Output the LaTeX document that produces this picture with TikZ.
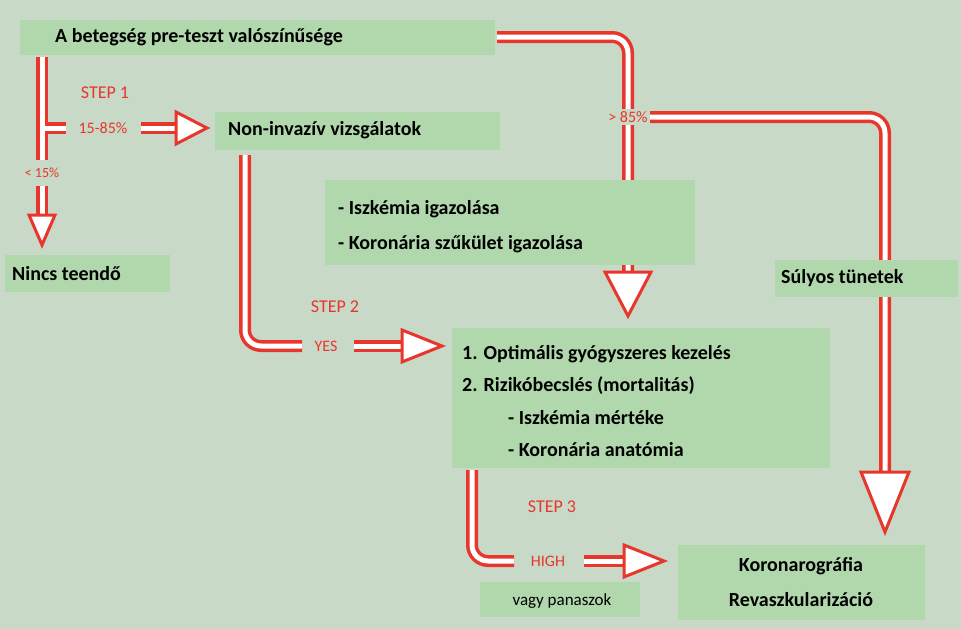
\documentclass[tikz,border=0pt]{standalone}
\usepackage{fontspec}
\setmainfont{Carlito}
\usetikzlibrary{positioning}
\definecolor{bgcol}{HTML}{C8D9C8}
\definecolor{boxcol}{HTML}{B1D8AC}
\definecolor{pipered}{HTML}{E8362C}
\tikzset{
box/.style={fill=boxcol, inner sep=0pt},
txt/.style={font=\bfseries\fontsize{20}{24}\selectfont, anchor=west, inner sep=0pt},
lab/.style={text=pipered, font=\fontsize{16}{19}\selectfont, inner sep=0pt},
pipeout/.style={draw=pipered, line width=12pt, rounded corners=16pt},
pipein/.style={draw=white, line width=5pt, rounded corners=16pt},
head/.style={draw=pipered, fill=white, line width=3pt, line join=miter},
}
% hollow arrow heads: tip, length, half width
\newcommand\headright[3]{\draw[head] (#1) -- ++(-#2,#3) -- ++(0,-2*#3) -- cycle;}
\newcommand\headdown[3]{\draw[head] (#1) -- ++(-#3,-#2) -- ++(2*#3,0) -- cycle;}
\begin{document}
\begin{tikzpicture}[x=1pt,y=-1pt]
\useasboundingbox[fill=bgcol] (0,0) rectangle (961,629);

%Named points of the connectors
\coordinate (a0) at (42,57);   \coordinate (a1) at (42,160);
\coordinate (a2) at (42,186);  \coordinate (a3) at (42,220);
\coordinate (alt) at (42,245);
\coordinate (b0) at (42,128);  \coordinate (b1) at (66,128);
\coordinate (b2) at (141,128); \coordinate (b3) at (178,128);
\coordinate (bt) at (207,128);
\coordinate (c0) at (497,37);  \coordinate (c1) at (628,37);
\coordinate (c2) at (628,275); \coordinate (ct) at (628,316);
\coordinate (d0) at (628,117); \coordinate (d1) at (885,117);
\coordinate (d2) at (885,475); \coordinate (dt) at (885,532);
\coordinate (e0) at (245,155); \coordinate (e1) at (245,346);
\coordinate (e2) at (302,346); \coordinate (e3) at (354,346);
\coordinate (e4) at (405,346); \coordinate (et) at (442,346);
\coordinate (f0) at (472,470); \coordinate (f1) at (472,561);
\coordinate (f2) at (514,561); \coordinate (f3) at (584,561);
\coordinate (f4) at (628,561); \coordinate (ft) at (664,561);

%Pipes, outer red first, white core on top
\draw[pipeout] (a0) -- (a1);
\draw[pipeout] (a2) -- (a3);
\draw[pipeout] (b0) -- (b1);
\draw[pipeout] (b2) -- (b3);
\draw[pipeout] (c0) -- (c1) -- (c2);
\draw[pipeout] (d0) -- (d1) -- (d2);
\draw[pipeout] (e0) -- (e1) -- (e2);
\draw[pipeout] (e3) -- (e4);
\draw[pipeout] (f0) -- (f1) -- (f2);
\draw[pipeout] (f3) -- (f4);
\draw[pipein] (a0) -- (a1);
\draw[pipein] (a2) -- (a3);
\draw[pipein] (b0) -- (b1);
\draw[pipein] (b2) -- (b3);
\draw[pipein] (c0) -- (c1) -- (c2);
\draw[pipein] (d0) -- (d1) -- (d2);
\draw[pipein] (e0) -- (e1) -- (e2);
\draw[pipein] (e3) -- (e4);
\draw[pipein] (f0) -- (f1) -- (f2);
\draw[pipein] (f3) -- (f4);

%Heads
\headdown{alt}{30}{13}
\headright{bt}{31}{16}
\headdown{ct}{44}{23}
\headdown{dt}{60}{24}
\headright{et}{40}{16}
\headright{ft}{40}{16}

%Boxes
\fill[box] (20,20) rectangle (495,55);
\node[txt] (pre) at (55,37) {A betegség pre-teszt valószínűsége};
\fill[box] (215,112) rectangle (500,150);
\node[txt] (noninv) at (228,130) {Non-invazív vizsgálatok};
\fill[box] (325,180) rectangle (695,265);
\node[txt] (isk) at (338,209) {- Iszkémia igazolása};
\node[txt] (kor) at (338,244) {- Koronária szűkület igazolása};
\fill[box] (5,255) rectangle (170,292);
\node[txt] (nincs) at (12,274) {Nincs teendő};
\fill[box] (775,260) rectangle (958,297);
\node[txt] (sulyos) at (781,278) {Súlyos tünetek};
\fill[box] (452,328) rectangle (830,468);
\node[txt] (opt) at (462,354) {1. Optimális gyógyszeres kezelés};
\node[txt] (rizk) at (462,386) {2. Rizikóbecslés (mortalitás)};
\node[txt] (iszm) at (508,418) {- Iszkémia mértéke};
\node[txt] (anat) at (508,450) {- Koronária anatómia};
\fill[box] (678,545) rectangle (925,620);
\node[txt, anchor=center] (korog) at (801,566) {Koronarográfia};
\node[txt, anchor=center] (revas) at (801,600) {Revaszkularizáció};
\fill[box] (480,582) rectangle (640,617);
\node[font=\fontsize{17}{20}\selectfont, inner sep=0pt] (vagy) at (562,601) {vagy panaszok};

%Red labels
\node[lab, font=\fontsize{18}{21}\selectfont] (s1) at (105,93) {STEP 1};
\node[lab] (p1) at (103,128) {15-85\%};
\node[lab, font=\fontsize{14}{17}\selectfont] (p2) at (42,173) {< 15\%};
\node[lab, fill=bgcol, inner sep=2pt] (p3) at (628,117) {> 85\%};
\node[lab, font=\fontsize{18}{21}\selectfont] (s2) at (335,307) {STEP 2};
\node[lab] (yes) at (326,346) {YES};
\node[lab, font=\fontsize{18}{21}\selectfont] (s3) at (552,507) {STEP 3};
\node[lab] (high) at (548,561) {HIGH};
\end{tikzpicture}
\end{document}
